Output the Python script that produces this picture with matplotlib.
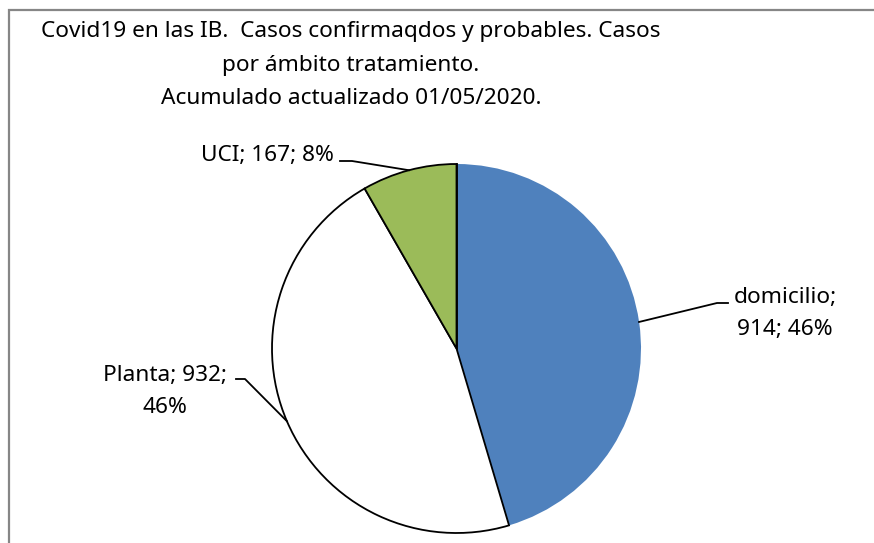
import numpy as np
import matplotlib.pyplot as plt

# datos del grafico
categorias = ['domicilio', 'Planta', 'UCI']
casos = [914, 932, 167]
porcentajes = ['46%', '46%', '8%']
colores = ['#4F81BD', '#FFFFFF', '#9BBB59']
titulo = ('Covid19 en las IB.  Casos confirmaqdos y probables. Casos\n'
          'por ámbito tratamiento.\n'
          'Acumulado actualizado 01/05/2020.')

plt.rcParams['font.family'] = ['Noto Sans', 'DejaVu Sans']

W, H = 874, 543
fig = plt.figure(figsize=(W / 100, H / 100), dpi=100)
ax = fig.add_axes([0, 0, 1, 1])

cx, cy, r = 456.5, H - 348.5, 184.5
wedges, _ = ax.pie(casos, colors=colores, startangle=90, counterclock=False,
                   center=(cx, cy), radius=r, frame=True)
ax.set_xlim(0, W)
ax.set_ylim(0, H)
ax.set_aspect('equal')
ax.axis('off')
for w, c in zip(wedges, categorias):
    if c == 'domicilio':
        w.set_edgecolor('none')
    else:
        w.set_edgecolor('black')
        w.set_linewidth(1.3)
# linea vertical entre domicilio y UCI
ax.plot([cx, cx], [cy, cy + r], color='black', lw=1.3)

# marco
ax.plot([8.5, 8.5, W], [0, H - 10, H - 10], color='#868686', lw=1.6,
        solid_joinstyle='miter')

fs = 16.3
# titulo
ax.text(351, H - 65, titulo, ha='center', va='center', fontsize=fs,
        linespacing=1.76)

# etiquetas con lineas guia
etiq = {
    'domicilio': dict(codo=(717, 303), fin=(728, 303), txt=(785, 313.5),
                      texto=f'domicilio;\n{casos[0]}; {porcentajes[0]}'),
    'Planta': dict(codo=(245, 379), fin=(236, 379), txt=(165, 391.5),
                   texto=f'Planta; {casos[1]};\n{porcentajes[1]}'),
    'UCI': dict(codo=(352, 161), fin=(340, 161), txt=(267, 155),
                texto=f'UCI; {casos[2]}; {porcentajes[2]}'),
}
for w, c in zip(wedges, categorias):
    ang = np.deg2rad((w.theta1 + w.theta2) / 2)
    px, py = cx + r * np.cos(ang), cy + r * np.sin(ang)
    e = etiq[c]
    ax.plot([px, e['codo'][0], e['fin'][0]],
            [py, H - e['codo'][1], H - e['fin'][1]], color='black', lw=1.3)
    ax.text(e['txt'][0], H - e['txt'][1], e['texto'], ha='center', va='center',
            fontsize=fs, linespacing=1.72)

fig.savefig('out.png', dpi=100)
